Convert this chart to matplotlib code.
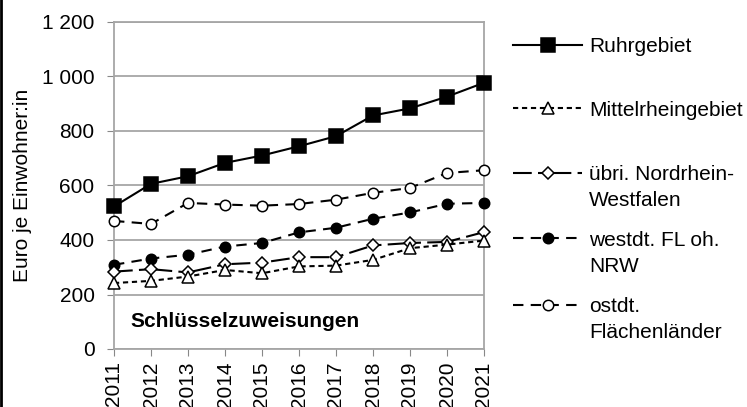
import matplotlib
matplotlib.use("Agg")
import matplotlib.pyplot as plt
from matplotlib.lines import Line2D
from matplotlib.ticker import FuncFormatter

# values (Euro je Einwohner:in)
years = [2011, 2012, 2013, 2014, 2015, 2016, 2017, 2018, 2019, 2020, 2021]
ruhrgebiet = [523, 606, 634, 683, 710, 744, 781, 857, 883, 926, 977]
mittelrhein = [242, 250, 266, 290, 278, 303, 306, 327, 370, 383, 398]
uebri_nrw = [284, 293, 281, 311, 317, 337, 337, 380, 389, 393, 429]
westdt = [309, 332, 346, 376, 389, 428, 445, 478, 501, 533, 536]
ostdt = [470, 459, 536, 530, 526, 532, 548, 573, 591, 646, 656]

labels = ["Ruhrgebiet", "Mittelrheingebiet", "übri. Nordrhein-\nWestfalen",
          "westdt. FL oh.\nNRW", "ostdt.\nFlächenländer"]

plt.rcParams['font.family'] = ['Liberation Sans', 'DejaVu Sans']
FS = 15

W, H = 747, 407
fig = plt.figure(figsize=(W / 100, H / 100), dpi=100)
ax = fig.add_axes([114 / W, (H - 349) / H, 370 / W, 327 / H])

styles = [
    dict(ls='-', marker='s', mfc='black', ms=9.5),
    dict(ls=(0, (2.5, 1.8)), marker='^', mfc='white', ms=8),
    dict(ls=(0, (9, 3, 4, 3)), marker='D', mfc='white', ms=6.5),
    dict(ls=(0, (5, 3.5)), marker='o', mfc='black', ms=7.5),
    dict(ls=(0, (5, 3.5)), marker='o', mfc='white', ms=7.5),
]
series = [ruhrgebiet, mittelrhein, uebri_nrw, westdt, ostdt]

# draw back to front like the reference (Ruhrgebiet on top)
for vals, st in reversed(list(zip(series, styles))):
    ax.plot(years, vals, color='black', lw=1.5, mec='black', mew=1.1,
            clip_on=False, zorder=3, **st)

ax.set_xlim(2011, 2021)
ax.set_ylim(0, 1200)
ax.set_xticks(years)
ax.set_xticklabels([str(y) for y in years], rotation=90, fontsize=FS)
ax.set_yticks(range(0, 1201, 200))
ax.yaxis.set_major_formatter(FuncFormatter(lambda v, p: f"{int(v):,}".replace(",", " ")))
ax.tick_params(axis='y', labelsize=FS, length=5, color='#888888', pad=9)
ax.tick_params(axis='x', length=5, color='#888888', pad=4)
ax.grid(axis='y', color='#a6a6a6', lw=1.3)
ax.set_axisbelow(True)
for s in ax.spines.values():
    s.set_color('#a6a6a6')
    s.set_linewidth(1.3)
ax.set_ylabel("Euro je Einwohner:in", fontsize=FS)
ax.yaxis.set_label_coords(-82 / 370, 0.5)

ax.text(0.045, 0.085, "Schlüsselzuweisungen", transform=ax.transAxes,
        fontsize=FS, fontweight='bold', va='center', ha='left')

# legend on the right, handle next to the first text line
leg_y = [45, 108, 173, 238, 305]
x0, x1 = 513 / W, 582 / W
for st, lab, y in zip(styles, labels, leg_y):
    yf = (H - y) / H
    fig.add_artist(Line2D([x0, (x0 + x1) / 2, x1], [yf, yf, yf], color='black',
                          lw=1.5, mec='black', mew=1.1, markevery=[1],
                          transform=fig.transFigure, **st))
    fig.text(589 / W, yf, lab.split("\n")[0], fontsize=FS, va='center_baseline', ha='left')
    if "\n" in lab:
        fig.text(589 / W, yf - 26 / H, lab.split("\n")[1], fontsize=FS,
                 va='center_baseline', ha='left')

# thin black border on the left edge of the image
fig.add_artist(Line2D([0.002, 0.002], [0, 1], color='black', lw=2,
                      transform=fig.transFigure))

fig.savefig("out.png", dpi=100)
